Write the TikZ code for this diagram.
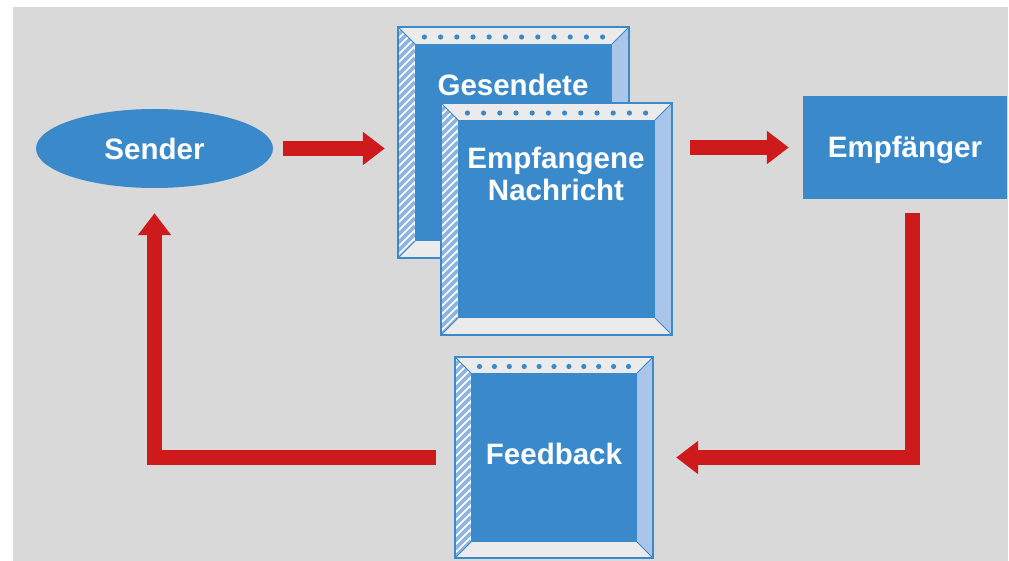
\documentclass[tikz,border=0pt]{standalone}
\usepackage{fontspec}
\newfontfamily\lblfont{Liberation Sans}
\usetikzlibrary{arrows.meta,shapes.geometric,fit}

\definecolor{bg}{HTML}{D9D9D9}
\definecolor{face}{HTML}{3A8ACB}
\definecolor{bevelgray}{HTML}{EBEBEB}
\definecolor{sideblue}{HTML}{A9C5EA}
\definecolor{hatchblue}{HTML}{8DB4E2}
\definecolor{arrowred}{HTML}{CE1A1B}

\tikzset{
  lbl/.style={text=white, font=\lblfont\bfseries\fontsize{29.5}{32.5}\selectfont,
    inner sep=0pt, align=center},
  flow/.style={draw=arrowred, line width=15pt, line join=miter,
    -{Triangle[length=22pt,width=32pt]}},
  hatch/.style={draw=hatchblue, line width=3.6pt},
  boxedge/.style={draw=face, line width=1.8pt},
  bevelline/.style={draw=face, line width=1pt},
}

% framed panel: name, left, top, right, bottom, bevel width, dot count, dot spacing
\newcommand\bevelbox[8]{%
  \fill[bevelgray] (#2,#3) -- (#4,#3) -- (#4-#6,#3+#6) -- (#2+#6,#3+#6) -- cycle;
  \fill[bevelgray] (#2,#5) -- (#4,#5) -- (#4-#6,#5-#6) -- (#2+#6,#5-#6) -- cycle;
  \fill[sideblue] (#4,#3) -- (#4,#5) -- (#4-#6,#5-#6) -- (#4-#6,#3+#6) -- cycle;
  \begin{scope}
    \clip (#2,#3) -- (#2+#6,#3+#6) -- (#2+#6,#5-#6) -- (#2,#5) -- cycle;
    \fill[white] (#2,#3) rectangle (#2+#6,#5);
    \foreach \k in {0,8,...,320} \draw[hatch] (#2,#3+\k) -- ++(#6,-#6);
  \end{scope}
  \fill[face] (#2+#6,#3+#6) rectangle (#4-#6,#5-#6);
  \foreach \i in {1,...,#7}
    \fill[face] ({(#2+#4)/2+(\i-(#7+1)/2)*#8},{#3+#6/2+1.5}) circle[radius=2.6pt];
  \draw[bevelline] (#2,#3) -- (#2+#6,#3+#6) (#4,#3) -- (#4-#6,#3+#6)
                   (#2,#5) -- (#2+#6,#5-#6) (#4,#5) -- (#4-#6,#5-#6);
  \draw[boxedge] (#2,#3) rectangle (#4,#5);
  \path (#2,#3) coordinate (#1-nw) (#4,#5) coordinate (#1-se);
  \node[fit=(#1-nw)(#1-se), inner sep=0pt] (#1) {};
}

\begin{document}
\begin{tikzpicture}[x=1pt,y=-1pt]
  \useasboundingbox (0,0) rectangle (1009,561);
  \fill[bg] (13,7) rectangle (1008,561);

  % sender and receiver
  \node[ellipse, fill=face, minimum width=237pt, minimum height=79pt, inner sep=0pt]
    (sender) at (154.5,148.5) {};
  \node[lbl] (sender-text) at (sender) {Sender};

  \node[rectangle, fill=face, minimum width=204pt, minimum height=103pt, inner sep=0pt]
    (empfaenger) at (905,147.5) {};
  \node[lbl] (empfaenger-text) at (905,150) {Empfänger};

  % message panels
  \bevelbox{gesendete}{398}{27}{629}{258}{17}{12}{16.2}
  \node[lbl] (gesendete-text) at (513,85) {Gesendete};

  \bevelbox{empfangene}{441}{103}{672}{335}{17}{12}{16.2}
  \node[lbl] (empfangene-text) at (556,174) {Empfangene\\Nachricht};

  \bevelbox{feedback}{455}{357}{653}{558}{16}{11}{14.9}
  \node[lbl] (feedback-text) at (554,454) {Feedback};

  % flow arrows
  \draw[flow, shorten <=10pt, shorten >=13pt]
    (sender.east) -- (sender.east -| gesendete.west);
  \draw[flow, shorten <=18pt, shorten >=14pt]
    (empfaenger.west -| empfangene.east) -- (empfaenger.west);
  \draw[flow, shorten <=14pt, shorten >=23pt]
    ([xshift=7pt]empfaenger.south) |- (feedback.east);
  \draw[flow, shorten <=19pt, shorten >=25pt]
    (feedback.west) -| (sender.south);
\end{tikzpicture}
\end{document}
